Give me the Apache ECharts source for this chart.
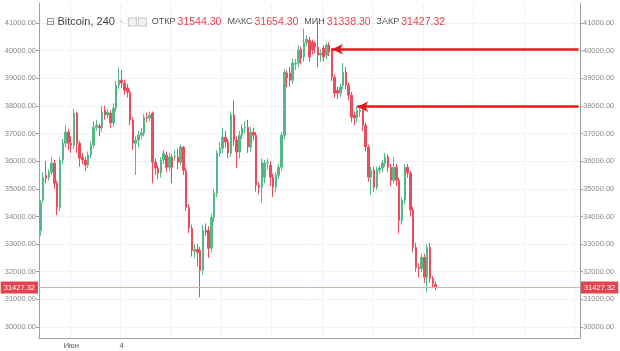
<!DOCTYPE html>
<html>
<head>
<meta charset="utf-8">
<script src="https://cdn.jsdelivr.net/npm/echarts@6/dist/echarts.min.js"></script>
<style>
  html, body { margin: 0; padding: 0; background: #fff; }
  #chart { width: 620px; height: 351px; }
</style>
</head>
<body>
<div id="chart"></div>
<script>
// Bitcoin, 4h bars (240 min)
const opens = [
  33500, 34590, 35490, 35420, 35600, 35930, 35200, 34330, 36040, 36650,
  37050, 36650, 36580, 37740, 36650, 36150, 36040, 35860, 36220, 36580,
  37230, 37270, 37200, 37850, 37670, 37740, 37380, 37920, 38750, 38930,
  38830, 38650, 38500, 37490, 36650, 36760, 36940, 37020, 37590, 37560,
  37740, 35960, 35750, 35570, 36040, 36220, 35780, 36150, 36150, 36150,
  35960, 36510, 35670, 34330, 33570, 32740, 32810, 32780, 32050, 33500,
  33500, 32850, 33970, 34840, 36290, 36470, 36870, 36690, 36290, 37670,
  36760, 36330, 36940, 37200, 37230, 36510, 37050, 36940, 35130, 35060,
  35420, 35930, 35860, 35420, 35060, 35490, 35780, 36940, 39190, 39190,
  38930, 39510, 39550, 40060, 39770, 40280, 40380, 40310, 40280, 40130,
  39840, 40090, 39840, 40200, 40020, 39040, 38570, 38460, 38750, 39220,
  38750, 38390, 37670, 37590, 37780, 37850, 37300, 36510, 35420, 35670,
  35060, 35670, 35750, 35930, 36150, 35780, 35310, 35780, 35310, 33860,
  34590, 35780, 35570, 34230, 32880, 32160, 32120, 32520, 31800, 32880,
  31760, 31544.30
];
const closes = [
  34480, 35420, 35380, 35600, 35930, 35200, 34330, 36040, 36650, 37050,
  36650, 36580, 37740, 36650, 36110, 36040, 35860, 36220, 36580, 37230,
  37300, 37200, 37780, 37670, 37780, 37380, 37920, 38750, 38930, 38830,
  38570, 38500, 37490, 36650, 36760, 36940, 37020, 37590, 37560, 37670,
  35960, 35750, 35570, 36040, 36290, 35780, 36150, 35780, 36180, 35960,
  36510, 35670, 34330, 33570, 32780, 32810, 32700, 32050, 33500, 33430,
  32850, 33970, 34840, 36290, 36470, 36870, 36690, 36290, 37670, 36760,
  36330, 36940, 37200, 37230, 36510, 37050, 36940, 35130, 35060, 35960,
  35930, 35960, 35420, 35060, 35490, 35780, 36940, 39220, 39010, 38930,
  39550, 39550, 40020, 39730, 40280, 40420, 39770, 40020, 40130, 39840,
  39910, 39770, 40200, 39950, 39040, 38460, 38460, 38680, 39220, 38750,
  38390, 37590, 37560, 37850, 37850, 37300, 36510, 35420, 35670, 35060,
  35670, 35750, 35930, 36150, 35780, 35310, 35780, 35310, 33860, 34590,
  35780, 35570, 34230, 32880, 32160, 32120, 32520, 31800, 32880, 31760,
  31580, 31427.32
];
const lows = [
  33300, 34480, 35200, 35300, 35500, 35000, 34050, 34200, 35900, 36500,
  36400, 36300, 36450, 36300, 35800, 35900, 35650, 35750, 36100, 36450,
  37100, 36900, 37050, 37500, 37550, 37200, 37250, 37800, 38600, 38650,
  38400, 38300, 37300, 36400, 35500, 36500, 36800, 36900, 37400, 37450,
  35200, 35500, 35350, 35400, 35900, 35600, 35650, 35200, 36000, 35700,
  35850, 35500, 34200, 33400, 32550, 32500, 32200, 31070, 31900, 33300,
  32500, 32700, 33800, 34700, 36150, 36300, 36500, 36100, 36150, 36550,
  35750, 36100, 36800, 37000, 36300, 36350, 36750, 34900, 34800, 34500,
  35200, 35700, 35100, 34700, 34900, 35350, 35650, 36800, 38680, 38700,
  38800, 39300, 39400, 39500, 39600, 40150, 39600, 39850, 39900, 39400,
  39600, 39600, 39700, 39800, 38900, 38300, 38250, 38300, 38600, 38600,
  38200, 37400, 37300, 37400, 37600, 37100, 36350, 35250, 34770, 34900,
  34950, 35550, 35600, 35800, 35600, 35100, 35200, 35100, 33390, 33700,
  34450, 35400, 34000, 32700, 32000, 31800, 32000, 31600, 31250, 31600,
  31400, 31338.30
];
const highs = [
  34600, 35600, 36000, 35700, 36150, 36050, 35300, 36150, 36800, 37300,
  37150, 36900, 37900, 37800, 36750, 36300, 36150, 36350, 36700, 37450,
  37500, 37350, 38000, 38000, 37900, 37850, 38100, 38900, 39400, 39300,
  38950, 38800, 38600, 37600, 36900, 37100, 37200, 37700, 37750, 37800,
  37800, 36100, 35850, 36150, 36400, 36350, 36300, 36250, 36400, 36450,
  36600, 36550, 35750, 34450, 33700, 33000, 33000, 32900, 33700, 33750,
  33650, 34100, 35000, 36400, 36700, 37200, 37100, 36800, 37800, 38200,
  36900, 37100, 37350, 37450, 37500, 37250, 37200, 37050, 35250, 36100,
  36050, 36100, 36000, 35550, 35600, 35900, 37050, 39350, 39300, 39400,
  39700, 39700, 40200, 40150, 40800, 40550, 40500, 40400, 40350, 41050,
  40050, 40200, 40300, 40300, 40100, 39150, 38700, 38800, 39550, 39400,
  38850, 38500, 37800, 38000, 38000, 37950, 37400, 36600, 35800, 35800,
  35800, 35850, 36050, 36300, 36250, 35900, 36150, 35900, 35400, 34700,
  35900, 35900, 35650, 34350, 33050, 32300, 32650, 32650, 33000, 33050,
  31850, 31654.30
];

// empty bars after the last candle (right margin of the chart)
const totalBars = 193;
const firstBarTime = Date.UTC(2021, 4, 30, 4);
const categories = [];
for (let i = 0; i < totalBars; i++) {
  const d = new Date(firstBarTime + i * 4 * 3600 * 1000);
  categories.push(d.toISOString().slice(0, 16).replace('T', ' '));
}

// x ticks: every 3 days starting 1 June
const xTickStart = 11;
const xTickStep = 18;
const xTickLabels = ['Июн', '4'];
const yTicks = [30000, 31000, 32000, 33000, 34000, 35000, 36000, 37000, 38000, 39000, 40000, 41000];

// annotation arrows (price, bar they point to)
const arrowPrices = [40050, 37970];
const arrowBars = [104, 113];

const upColor = '#53b987';
const downColor = '#eb4d5c';

const last = opens.length - 1;
const lastClose = closes[last];

const isXTick = (idx) => idx >= xTickStart && (idx - xTickStart) % xTickStep === 0;

const candles = opens.map((o, i) => [o, closes[i], lows[i], highs[i]]);

const yAxisBase = {
  type: 'value',
  min: 29602,
  max: 41724,
  splitNumber: 12,
  axisLine: { show: true, lineStyle: { color: '#a0a0a0' } },
  axisTick: { show: true, length: 3, customValues: yTicks, lineStyle: { color: '#a0a0a0' } },
  axisLabel: {
    customValues: yTicks,
    fontSize: 7.5,
    color: '#8a8a8a',
    margin: 3,
    fontFamily: 'Liberation Sans',
    formatter: (v) => v.toFixed(2)
  }
};

const chart = echarts.init(document.getElementById('chart'));

const option = {
  animation: false,
  backgroundColor: '#fff',
  title: {
    left: 41,
    top: 8,
    text: '{sq|⊟}{name|Bitcoin, 240}{dd|-}{b|}{gap|}{b|}' +
      '{k|ОТКР}{v|' + opens[last].toFixed(2) + '}' +
      '{k|МАКС}{v|' + highs[last].toFixed(2) + '}' +
      '{k|МИН}{v|' + lows[last].toFixed(2) + '}' +
      '{k|ЗАКР}{v|' + closes[last].toFixed(2) + '}',
    textStyle: {
      fontFamily: 'Liberation Sans',
      fontWeight: 'normal',
      rich: {
        sq: { fontSize: 10, color: '#777', fontWeight: 'normal', fontFamily: 'DejaVu Sans', padding: [0, 3, 0, 0] },
        name: { fontSize: 11, color: '#444', fontWeight: 'normal', padding: [0, 5, 0, 0] },
        dd: { fontSize: 9, color: '#aaa', fontWeight: 'normal', padding: [0, 6, 0, 0] },
        b: { width: 7, height: 7, borderColor: '#c8c8c8', borderWidth: 1, backgroundColor: '#f2f2f2' },
        gap: { width: 3 },
        k: { fontSize: 9, color: '#555', fontWeight: 'normal', padding: [0, 2, 0, 6] },
        v: { fontSize: 10.5, color: '#e8424f', fontWeight: 'normal' }
      }
    }
  },
  grid: { left: 39, right: 40, top: 3, bottom: 13 },
  xAxis: {
    type: 'category',
    data: categories,
    boundaryGap: true,
    axisLine: { lineStyle: { color: '#a0a0a0' } },
    axisTick: { alignWithLabel: true, length: 3, interval: isXTick, lineStyle: { color: '#a0a0a0' } },
    splitLine: { show: true, interval: isXTick, lineStyle: { color: '#f0f2f4' } },
    axisLabel: {
      interval: isXTick,
      fontSize: 7.5,
      color: '#555',
      margin: 4,
      fontFamily: 'Liberation Sans',
      formatter: (v, idx) => xTickLabels[(idx - xTickStart) / xTickStep] || ''
    }
  },
  yAxis: [
    Object.assign({}, yAxisBase, {
      position: 'left',
      splitLine: { show: true, lineStyle: { color: '#f0f2f4' } }
    }),
    Object.assign({}, yAxisBase, {
      position: 'right',
      splitLine: { show: false }
    })
  ],
  series: [{
    type: 'candlestick',
    data: candles,
    barWidth: 2,
    itemStyle: {
      color: upColor,
      color0: downColor,
      borderColor: upColor,
      borderColor0: downColor,
      borderWidth: 1
    },
    markLine: {
      silent: true,
      animation: false,
      symbol: ['none', 'none'],
      data: [
        {
          yAxis: lastClose,
          lineStyle: { color: '#f4a3aa', width: 1, type: 'solid' },
          label: {
            position: 'start', distance: 1, formatter: lastClose.toFixed(2),
            backgroundColor: '#e8424f', color: '#fff', fontSize: 7.5, padding: [2, 3],
            fontFamily: 'Liberation Sans'
          }
        },
        {
          yAxis: lastClose,
          lineStyle: { color: '#f4a3aa', width: 1, type: 'solid' },
          label: {
            position: 'end', distance: 1, formatter: lastClose.toFixed(2),
            backgroundColor: '#e8424f', color: '#fff', fontSize: 7.5, padding: [2, 3],
            fontFamily: 'Liberation Sans'
          }
        }
      ].concat(arrowPrices.map((p, i) => [
        {
          coord: [categories[arrowBars[i]], p],
          symbol: 'arrow',
          symbolSize: [8, 11],
          lineStyle: { color: '#e3191f', width: 2.5, type: 'solid' },
          label: { show: false }
        },
        { coord: [categories[totalBars - 1], p], symbol: 'none' }
      ]))
    }
  }]
};

chart.setOption(option);
</script>
</body>
</html>
